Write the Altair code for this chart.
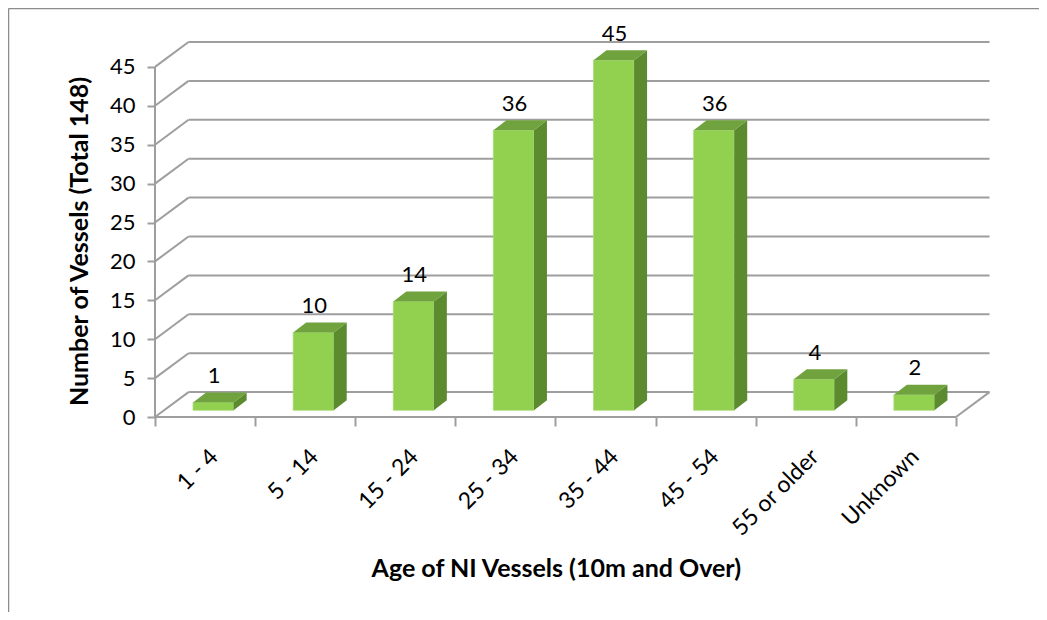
import altair as alt
import pandas as pd

# ---- data ----
categories = ["1 - 4", "5 - 14", "15 - 24", "25 - 34", "35 - 44", "45 - 54", "55 or older", "Unknown"]
counts = [1, 10, 14, 36, 45, 36, 4, 2]
y_ticks = [0, 5, 10, 15, 20, 25, 30, 35, 40, 45]

# ---- 3D geometry (in scale units) ----
DEPTH_X, DEPTH_Y = 0.335, 3.2      # wall depth offset
BX0, BX1 = 0.38, 0.785             # bar front face within category
BASE = 0.86                        # bar base (floor depth)
BDX, BDY = 0.13, 1.28              # bar depth offset
N = len(categories)

FONT = "Lato"
GRID = "#9E9E9E"
FRONT, TOP, SIDE = "#92D050", "#70A33E", "#5C8A2F"

xs = alt.Scale(domain=[0, 8.4], nice=False, zero=False)
ys = alt.Scale(domain=[0, 50], nice=False, zero=False)

X_AX = alt.Axis(values=list(range(N + 1)), labels=False, grid=False, domain=False,
                tickSize=9, tickColor=GRID, tickWidth=2,
                title="Age of NI Vessels (10m and Over)",
                titleFont=FONT, titleFontSize=25, titleFontWeight="bold",
                titleColor="black", titleX=400.8, titleY=159,
                titleBaseline="alphabetic", titleAlign="center")
Y_AX = alt.Axis(values=y_ticks, grid=False, domain=False, tickSize=8,
                tickColor=GRID, tickWidth=2, labelFont=FONT, labelFontSize=22,
                labelColor="black", labelPadding=12,
                title="Number of Vessels (Total 148)",
                titleFont=FONT, titleFontSize=25, titleFontWeight="bold",
                titleColor="black", titleAngle=270, titleX=-68, titleY=213,
                titleBaseline="alphabetic", titleAlign="center")


def X(f):
    return alt.X(f, scale=xs, axis=X_AX)


def Y(f):
    return alt.Y(f, scale=ys, axis=Y_AX)


front = pd.DataFrame({
    "cat": categories,
    "x0": [i + BX0 for i in range(N)],
    "x1": [i + BX1 for i in range(N)],
    "y0": [BASE] * N,
    "y1": [BASE + v for v in counts],
})

side_rows, top_rows = [], []
for i, (c, v) in enumerate(zip(categories, counts)):
    x0, x1, t = i + BX0, i + BX1, BASE + v
    side_rows += [{"cat": c, "x": x1, "top": t, "bot": BASE},
                  {"cat": c, "x": x1 + BDX, "top": t + BDY, "bot": BASE + BDY}]
    top_rows += [{"cat": c, "y": t, "xa": x0, "xb": x1},
                 {"cat": c, "y": t + BDY, "xa": x0 + BDX, "xb": x1 + BDX}]
side = pd.DataFrame(side_rows)
topf = pd.DataFrame(top_rows)

grid = pd.DataFrame({"v": y_ticks})
grid["vb"] = grid["v"] + DEPTH_Y
grid["xb0"] = DEPTH_X
grid["xb1"] = N + DEPTH_X
grid["x0"] = 0.0

labels = pd.DataFrame({
    "cat": categories,
    "v": counts,
    "x": [i + 0.59 for i in range(N)],
    "y": [v + BASE + BDY + 1.2 for v in counts],
    "xl": [i + 0.595 for i in range(N)],
    "yl": [-4.67] * N,
})

frame = pd.DataFrame({"x0": [0.0], "x1": [float(N)], "y0": [0.0], "y1": [45.0],
                      "xd": [N + DEPTH_X], "yd": [DEPTH_Y]})

back = alt.Chart(grid).mark_rule(color=GRID, strokeWidth=2).encode(
    x=X("xb0:Q"), x2="xb1:Q", y=Y("vb:Q"))
diag = alt.Chart(grid).mark_rule(color=GRID, strokeWidth=2).encode(
    x=X("x0:Q"), x2="xb0:Q", y=Y("v:Q"), y2="vb:Q")
floor_front = alt.Chart(frame).mark_rule(color=GRID, strokeWidth=2).encode(
    x=X("x0:Q"), x2="x1:Q", y=Y("y0:Q"))
floor_right = alt.Chart(frame).mark_rule(color=GRID, strokeWidth=2).encode(
    x=X("x1:Q"), x2="xd:Q", y=Y("y0:Q"), y2="yd:Q")
axis_line = alt.Chart(frame).mark_rule(color=GRID, strokeWidth=2).encode(
    x=X("x0:Q"), y=Y("y0:Q"), y2="y1:Q")

bar_front = alt.Chart(front).mark_rect(color=FRONT, stroke="#A8DC78", strokeWidth=0.8).encode(
    x=X("x0:Q"), x2="x1:Q", y=Y("y0:Q"), y2="y1:Q")
bar_side = alt.Chart(side).mark_area(color=SIDE, interpolate="linear").encode(
    x=X("x:Q"), y=Y("top:Q"), y2="bot:Q", detail="cat:N")
bar_top = alt.Chart(topf).mark_area(color=TOP, orient="horizontal", interpolate="linear").encode(
    y=Y("y:Q"), x=X("xa:Q"), x2="xb:Q", detail="cat:N")

val_text = alt.Chart(labels).mark_text(font=FONT, fontSize=22, color="black",
                                       baseline="alphabetic", align="center").encode(
    x=X("x:Q"), y=Y("y:Q"), text="v:Q")
cat_text = alt.Chart(labels).mark_text(font=FONT, fontSize=23, color="black", angle=315,
                                       align="right", baseline="middle").encode(
    x=X("xl:Q"), y=Y("yl:Q"), text="cat:N")

border_top = alt.Chart(frame).mark_rule(color="#8C8C8C", strokeWidth=1.5).encode(
    x=alt.value(-146.5), x2=alt.value(884), y=alt.value(-19.5))
border_left = alt.Chart(frame).mark_rule(color="#8C8C8C", strokeWidth=1.5).encode(
    x=alt.value(-146.5), y=alt.value(-19.5), y2=alt.value(600))

chart = alt.layer(
    back, diag, floor_front, floor_right, axis_line,
    bar_front, bar_side, bar_top, val_text, cat_text, border_top, border_left
).properties(
    width=841, height=389,
    padding={"left": 147, "top": 20, "right": 43, "bottom": 195},
    autosize=alt.AutoSizeParams(type="none"),
    background="white",
).configure_view(stroke=None)

chart.save("out.html", embed_options={"renderer": "svg", "actions": False})
